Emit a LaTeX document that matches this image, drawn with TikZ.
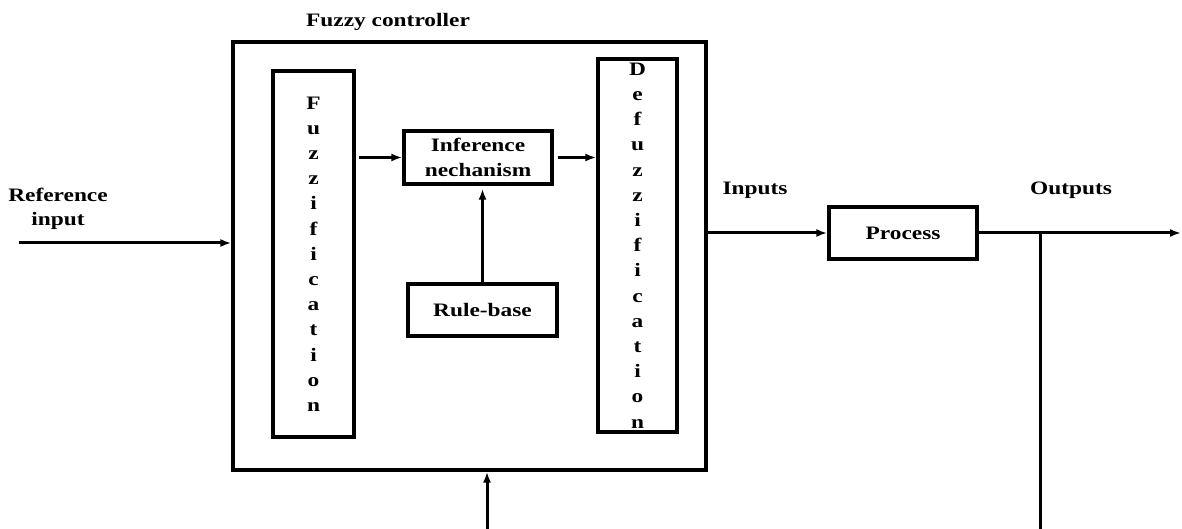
\documentclass[tikz,border=0pt]{standalone}
\usepackage{fontspec}
\setmainfont{Liberation Serif}[FakeStretch=1.23]
\usetikzlibrary{arrows.meta}
\begin{document}
\begin{tikzpicture}[x=1pt,y=-1pt,
  lbl/.style={font=\fontsize{19}{24}\selectfont\bfseries, align=center, inner sep=0},
  blk/.style={draw, line width=3.2pt, inner sep=0, rectangle, align=center,
    font=\fontsize{19}{25}\selectfont\bfseries},
  vtxt/.style={font=\fontsize{19}{25.2}\selectfont\bfseries},
  conn/.style={line width=3pt},
  arr/.style={conn, -{Latex[length=11pt,width=8pt]}}]
\useasboundingbox (0,0) rectangle (1182,529);

% big controller box
\node[draw, line width=3.2pt, inner sep=0, minimum width=473pt, minimum height=428pt] (fc) at (469.5,256) {};
\node[lbl] (title) at (388,22) {Fuzzy controller};

% inner blocks
\node[blk, vtxt, minimum width=81pt, minimum height=366pt] (fuzz) at (313.5,254)
  {F\\u\\z\\z\\i\\f\\i\\c\\a\\t\\i\\o\\n};
\node[blk, vtxt, minimum width=79pt, minimum height=373pt] (defuzz) at (637.5,245.5)
  {D\\e\\f\\u\\z\\z\\i\\f\\i\\c\\a\\t\\i\\o\\n};
\node[blk, minimum width=148pt, minimum height=53pt] (inf) at (478,157.5) {Inference\\nechanism};
\node[blk, minimum width=149pt, minimum height=52pt] (rule) at (482.5,310) {Rule-base};
\node[blk, minimum width=148pt, minimum height=52pt] (proc) at (903,233) {Process};

% labels
\node[lbl] (reflbl) at (58,209) {Reference\\input};
\node[lbl] (inlbl) at (755,190) {Inputs};
\node[lbl] (outlbl) at (1071,190) {Outputs};

% connectors
\coordinate (rin) at (19,243);
\draw[arr] (rin) -- (rin -| fc.west);
\draw[arr, shorten <=3pt] (fuzz.east |- inf.west) -- (inf.west);
\draw[arr, shorten <=4pt] (inf.east) -- (inf.east -| defuzz.west);
\draw[arr, shorten >=3pt] (rule.north) -- (rule.north |- inf.south);
\draw[arr] (fc.east |- proc.west) -- (proc.west);
\coordinate (out) at (1181,233);
\draw[arr] (proc.east) -- (out);
\coordinate (fbr) at (1040,529);
\draw[conn] (fbr |- proc.east) -- (fbr);
\coordinate (fbl) at (487,529);
\draw[arr] (fbl) -- (fbl |- fc.south);
\end{tikzpicture}
\end{document}
